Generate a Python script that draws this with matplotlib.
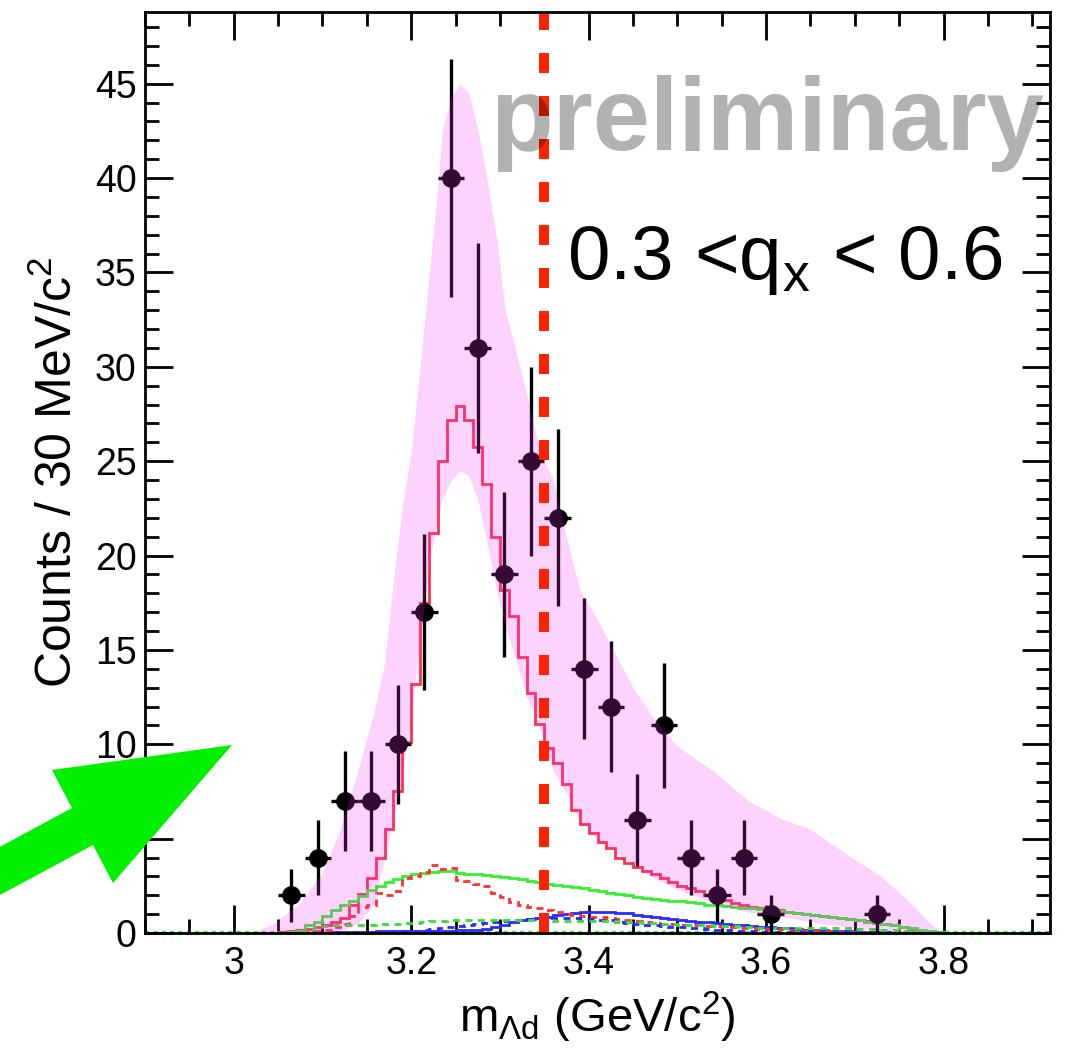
import numpy as np
import matplotlib
matplotlib.use("Agg")
import matplotlib.pyplot as plt
from matplotlib.patches import Polygon
from matplotlib.ticker import MultipleLocator, FormatStrFormatter

plt.rcParams["font.family"] = ["Liberation Sans", "DejaVu Sans"]
plt.rcParams["mathtext.fontset"] = "custom"
plt.rcParams["mathtext.rm"] = "Liberation Sans"
plt.rcParams["mathtext.it"] = "Liberation Sans:italic"
plt.rcParams["mathtext.default"] = "regular"

# data points (30 MeV bins)
mass = [3.065, 3.095, 3.125, 3.155, 3.185, 3.215, 3.245, 3.275, 3.305, 3.335,
        3.365, 3.395, 3.425, 3.455, 3.485, 3.515, 3.545, 3.575, 3.605, 3.725]
counts = [2, 4, 7, 7, 10, 17, 40, 31, 19, 25,
          22, 14, 12, 6, 11, 4, 2, 4, 1, 1]

# model histograms, 10 MeV bins starting at 3.05
hist_start = 3.05
red_hist = [0.05, 0.1, 0.15, 0.2, 0.3, 0.4, 0.6, 0.8, 1.5, 2.05,
            2.9, 4.0, 5.5, 7.5, 10.1, 13.2, 17.5, 21.2, 25.0, 27.2,
            27.9, 27.2, 25.75, 23.8, 21.0, 18.2, 16.8, 14.6, 12.7, 11.1,
            9.8, 9.0, 7.9, 6.5, 5.8, 5.3, 4.8, 4.5, 4.0, 3.7,
            3.5, 3.3, 3.1, 2.9, 2.7, 2.5, 2.4, 2.2, 2.0, 1.9,
            1.75, 1.6, 1.5, 1.4, 1.3, 1.25, 1.2, 1.1, 1.05, 1.0,
            0.95, 0.9, 0.85, 0.8, 0.75, 0.7, 0.62, 0.55, 0.48, 0.4,
            0.3, 0.2, 0.1, 0.05, 0.02]
green_hist = [0.0, 0.05, 0.1, 0.4, 0.6, 0.9, 1.2, 1.5, 1.7, 1.95,
              2.3, 2.5, 2.7, 2.85, 3.0, 3.1, 3.2, 3.25, 3.3, 3.3,
              3.2, 3.15, 3.1, 3.05, 3.0, 2.95, 2.9, 2.85, 2.75, 2.7,
              2.6, 2.55, 2.5, 2.45, 2.4, 2.3, 2.2, 2.1, 2.05, 2.0,
              1.9, 1.85, 1.8, 1.75, 1.7, 1.7, 1.65, 1.6, 1.5, 1.5,
              1.45, 1.4, 1.35, 1.3, 1.25, 1.2, 1.15, 1.1, 1.05, 1.0,
              0.95, 0.9, 0.85, 0.8, 0.75, 0.7, 0.6, 0.55, 0.5, 0.4,
              0.3, 0.25, 0.15, 0.1, 0.05]
red_dash = [0.0, 0.0, 0.02, 0.05, 0.1, 0.15, 0.3, 0.5, 0.9, 1.4,
            1.5, 2.1, 2.0, 2.2, 2.9, 3.0, 3.25, 3.6, 3.4, 3.45,
            2.8, 2.75, 2.6, 2.5, 2.1, 1.9, 1.65, 1.5, 1.4, 1.3,
            1.2, 1.1, 1.0, 0.95, 0.9, 0.85, 0.85, 0.8, 0.75, 0.7,
            0.65, 0.6, 0.55, 0.5, 0.5, 0.45, 0.4, 0.4, 0.35, 0.35,
            0.3, 0.3, 0.25, 0.25, 0.2, 0.2, 0.2, 0.15, 0.15, 0.12,
            0.1, 0.1, 0.08, 0.06, 0.05, 0.04, 0.03, 0.02, 0.01, 0.01,
            0.0, 0.0, 0.0, 0.0, 0.0]
blue_hist = [0.0, 0.0, 0.0, 0.0, 0.0, 0.02, 0.03, 0.04, 0.05, 0.06,
             0.07, 0.08, 0.08, 0.09, 0.1, 0.1, 0.11, 0.12, 0.12, 0.13,
             0.14, 0.15, 0.15, 0.22, 0.3, 0.45, 0.6, 0.68, 0.74, 0.8,
             0.86, 0.93, 1.0, 1.05, 1.1, 1.13, 1.12, 1.1, 1.07, 1.05,
             0.98, 0.9, 0.85, 0.8, 0.75, 0.7, 0.65, 0.6, 0.56, 0.53,
             0.49, 0.45, 0.41, 0.37, 0.33, 0.3, 0.27, 0.24, 0.21, 0.18,
             0.16, 0.14, 0.12, 0.1, 0.08, 0.07, 0.05, 0.04, 0.03, 0.02,
             0.02, 0.01, 0.01, 0.0, 0.0]
blue_dash = [0.0, 0.0, 0.0, 0.0, 0.0, 0.0, 0.0, 0.01, 0.02, 0.03,
             0.05, 0.06, 0.07, 0.08, 0.09, 0.1, 0.15, 0.2, 0.25, 0.3,
             0.35, 0.45, 0.5, 0.55, 0.6, 0.65, 0.67, 0.7, 0.72, 0.75,
             0.78, 0.8, 0.8, 0.78, 0.75, 0.72, 0.7, 0.67, 0.6, 0.55,
             0.5, 0.45, 0.42, 0.38, 0.34, 0.3, 0.27, 0.24, 0.2, 0.17,
             0.15, 0.12, 0.1, 0.08, 0.07, 0.06, 0.05, 0.04, 0.03, 0.03,
             0.02, 0.02, 0.01, 0.01, 0.01, 0.0, 0.0, 0.0, 0.0, 0.0,
             0.0, 0.0, 0.0, 0.0, 0.0]
green_dash = [0.0, 0.0, 0.1, 0.2, 0.3, 0.35, 0.4, 0.4, 0.42, 0.45,
              0.45, 0.48, 0.5, 0.5, 0.52, 0.55, 0.6, 0.62, 0.65, 0.68,
              0.68, 0.68, 0.68, 0.68, 0.68, 0.68, 0.68, 0.68, 0.68, 0.68,
              0.68, 0.66, 0.65, 0.64, 0.63, 0.62, 0.62, 0.61, 0.6, 0.6,
              0.58, 0.55, 0.52, 0.5, 0.48, 0.45, 0.43, 0.42, 0.4, 0.38,
              0.36, 0.35, 0.33, 0.31, 0.29, 0.28, 0.28, 0.27, 0.27, 0.27,
              0.27, 0.26, 0.26, 0.26, 0.25, 0.23, 0.2, 0.2, 0.18, 0.15,
              0.12, 0.1, 0.07, 0.05, 0.03]

# model uncertainty band
band_x = [3.02, 3.045, 3.075, 3.10, 3.12, 3.14, 3.158, 3.17, 3.18, 3.19,
          3.20, 3.21, 3.22, 3.23, 3.235, 3.245, 3.255, 3.265, 3.275, 3.285,
          3.297, 3.306, 3.315, 3.33, 3.345, 3.36, 3.375, 3.39, 3.41, 3.43,
          3.45, 3.47, 3.50, 3.54, 3.58, 3.62, 3.65, 3.69, 3.73, 3.765,
          3.785, 3.80]
band_hi = [0, 0.5, 1.6, 3.2, 5.5, 8.6, 11.7, 14.3, 18.7, 22.6,
           25.5, 30.0, 34.8, 39.5, 42.5, 44.3, 45.0, 44.5, 42.6, 40.1,
           36.6, 33.0, 31.4, 28.6, 25.5, 24.0, 21.0, 18.2, 16.6, 14.8,
           13.0, 11.6, 9.9, 8.6, 7.0, 6.0, 5.5, 4.2, 3.0, 1.5,
           0.5, 0]
band_lo = [0, 0, 0, 0, 0.1, 0.5, 1.5, 4.0, 6.0, 8.5,
           11.5, 15.5, 19.5, 22.0, 23.0, 24.0, 24.5, 24.2, 23.0, 20.8,
           18.0, 16.3, 14.9, 12.6, 10.8, 8.6, 7.4, 6.0, 5.0, 4.3,
           3.7, 3.0, 2.3, 1.6, 1.1, 0.85, 0.6, 0.33, 0.16, 0.05,
           0.02, 0]

cut_mass = 3.35

fig = plt.figure(figsize=(10.66, 10.48), dpi=100)
ax = fig.add_axes([145/1066, 115/1048, 905/1066, 921/1048])
ax.set_xlim(2.9, 3.92)
ax.set_ylim(0, 48.8)

edges = hist_start + 0.01*np.arange(len(red_hist) + 1)
lw = 2.0
ax.stairs(red_hist, edges, color="#ff3048", lw=lw, zorder=2)
ax.stairs(green_hist, edges, color="#33f033", lw=lw, zorder=2)
ax.stairs(blue_hist, edges, color="#2a2aff", lw=lw, zorder=2)
ax.stairs(red_dash, edges, color="#ff3030", lw=lw, ls=(0, (2.5, 2)), zorder=2)
ax.stairs(blue_dash, edges, color="#2a2aff", lw=lw, ls=(0, (2.5, 2)), zorder=2)
ax.stairs(green_dash, edges, color="#33e033", lw=lw, ls=(0, (2.5, 2)), zorder=2)
ax.axhline(0, color="#33ee33", lw=3, ls=(0, (1, 1)), zorder=1.5, clip_on=False)

ax.errorbar(mass, counts, yerr=np.sqrt(counts), xerr=0.015, fmt="o", color="black",
            ms=12.5, elinewidth=2.4, capsize=0, zorder=2.5)

# band drawn translucent over points, as in the original
ax.fill_between(band_x, band_lo, band_hi, color="#f530f5", alpha=0.21, lw=0, zorder=3)

ax.plot([cut_mass, cut_mass], [0, 48.8], color="#ff2200", lw=7.2, ls=(0, (2.0, 2.3)),
        solid_capstyle="butt", zorder=4)

ax.text(0.381, 0.850, "preliminary", transform=ax.transAxes, fontsize=74,
        fontweight="bold", color="black", alpha=0.3, ha="left", va="baseline", zorder=6)
ax.text(0.466, 0.710, r"0.3 <q$_{x}$ < 0.6", transform=ax.transAxes, fontsize=55,
        color="black", ha="left", va="baseline", zorder=6)

ax.xaxis.set_major_locator(MultipleLocator(0.2))
ax.xaxis.set_minor_locator(MultipleLocator(0.05))
ax.yaxis.set_major_locator(MultipleLocator(5))
ax.yaxis.set_minor_locator(MultipleLocator(1))
ax.xaxis.set_major_formatter(FormatStrFormatter("%g"))
ax.tick_params(which="both", direction="in", top=True, right=True, width=2, labelsize=27)
ax.tick_params(which="major", length=20)
ax.tick_params(which="minor", length=10)
ax.tick_params(axis="x", pad=9)
ax.tick_params(axis="y", pad=6)
for s in ax.spines.values():
    s.set_linewidth(2)
    s.set_zorder(5)

ax.set_xlabel(r"m$_{\Lambda d}$ (GeV/c$^{2}$)", fontsize=34)
ax.xaxis.set_label_coords(0.5, -0.062)
ax.set_ylabel(r"Counts / 30 MeV/c$^{2}$", fontsize=36)
ax.yaxis.set_label_coords(-0.07, 0.5)

# green arrow (figure pixels, origin top-left)
arrow_px = [(-30, 863), (72, 808), (52, 770), (232, 745), (113, 883), (93, 845), (-30, 911)]
arrow = Polygon([(x/1066, 1 - y/1048) for x, y in arrow_px], closed=True,
                transform=fig.transFigure, color="#00f000", lw=0, zorder=10)
fig.patches.append(arrow)

fig.savefig("out.png", dpi=100)
